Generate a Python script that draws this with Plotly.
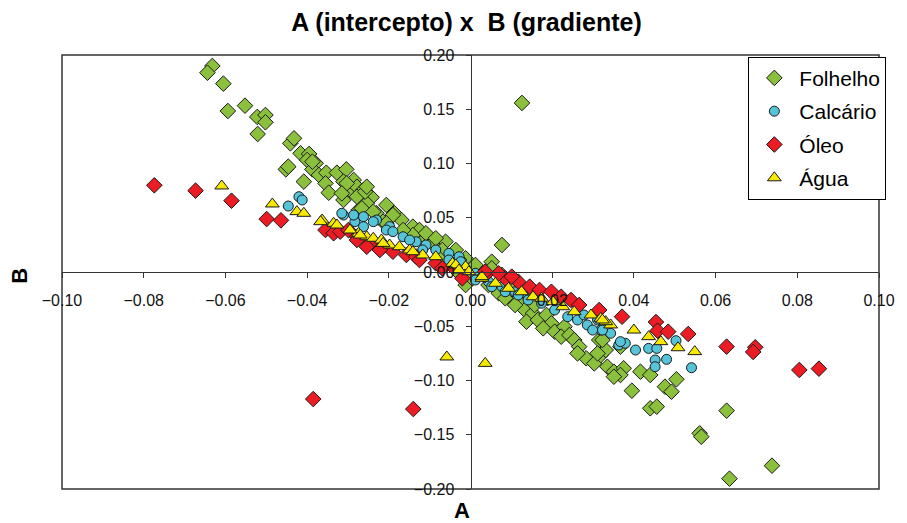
import plotly.graph_objects as go

# Folhelho (shale)
folhelho_a = [-0.0632, -0.0644, -0.0605, -0.0594, -0.0552, -0.0522, -0.0502, -0.0502, -0.0521, -0.0441,
              -0.0432, -0.0452, -0.0446, -0.0416, -0.0395, -0.0400, -0.0379, -0.0387, -0.0371, -0.0353,
              -0.0355, -0.0408, -0.0347, -0.0327, -0.0304, -0.0311, -0.0286, -0.0295, -0.0278, -0.0262,
              -0.0242, -0.0311, -0.0254, -0.0206, -0.0274, -0.0230, -0.0186, -0.0169, -0.0141, -0.0125,
              -0.0214, -0.0387, -0.0303, -0.0315, -0.0278, -0.0258, -0.0254, -0.0266, -0.0238, -0.0190,
              -0.0206, -0.0141, -0.0109, -0.0093, -0.0061, -0.0069, -0.0036, -0.0012, -0.0028, -0.0165,
              -0.0109, -0.0085, 0.0012, 0.0052, 0.0032, 0.0052, 0.0077, -0.0012, 0.0004, 0.0044,
              0.0085, 0.0109, 0.0133, 0.0149, 0.0101, -0.0036, -0.0077, 0.0077, 0.0069, 0.0085,
              0.0121, 0.0133, 0.0153, 0.0137, 0.0165, 0.0186, 0.0198, 0.0178, 0.0206, 0.0230,
              0.0222, 0.0242, 0.0254, 0.0266, 0.0283, 0.0303, 0.0319, 0.0331, 0.0315, 0.0335,
              0.0351, 0.0375, 0.0367, 0.0109, 0.0157, 0.0262, 0.0311, 0.0323, 0.0351, 0.0416,
              0.0440, 0.0395, 0.0367, 0.0440, 0.0456, 0.0476, 0.0492, 0.0504, 0.0561, 0.0565,
              0.0627, 0.0634, 0.0738, 0.0126]
folhelho_b = [0.1899, 0.1837, 0.1736, 0.1484, 0.1533, 0.1429, 0.1447, 0.1380, 0.1272, 0.1186,
              0.1232, 0.0946, 0.0971, 0.1094, 0.1088, 0.1032, 0.1002, 0.0946, 0.0894, 0.0915,
              0.0817, 0.0833, 0.0731, 0.0915, 0.0946, 0.0833, 0.0848, 0.0756, 0.0786, 0.0756,
              0.0688, 0.0664, 0.0633, 0.0618, 0.0571, 0.0541, 0.0541, 0.0479, 0.0418, 0.0387,
              0.0464, 0.1017, 0.0817, 0.0725, 0.0694, 0.0740, 0.0786, 0.0587, 0.0556, 0.0525,
              0.0449, 0.0341, 0.0311, 0.0264, 0.0279, 0.0203, 0.0203, 0.0126, 0.0111, 0.0387,
              0.0357, 0.0311, 0.0065, 0.0095, -0.0028, 0.0034, -0.0028, -0.0120, -0.0058, -0.0120,
              -0.0212, -0.0274, -0.0242, -0.0320, -0.0120, 0.0018, 0.0126, 0.0249, -0.0196, -0.0242,
              -0.0288, -0.0350, -0.0381, -0.0458, -0.0442, -0.0396, -0.0473, -0.0519, -0.0550, -0.0504,
              -0.0596, -0.0581, -0.0627, -0.0688, -0.0795, -0.0842, -0.0765, -0.0719, -0.0627, -0.0873,
              -0.0919, -0.0888, -0.0949, -0.0304, -0.0304, -0.0750, -0.0750, -0.0627, -0.0965, -0.0919,
              -0.0949, -0.1094, -0.0688, -0.1256, -0.1241, -0.1057, -0.1103, -0.0989, -0.1487, -0.1518,
              -0.1278, -0.1905, -0.1785, 0.1558]

# Calcário (limestone)
calcario_a = [-0.0446, -0.0420, -0.0412, -0.0311, -0.0283, -0.0262, -0.0230, -0.0198, -0.0315, -0.0286,
              -0.0238, -0.0262, -0.0206, -0.0190, -0.0165, -0.0133, -0.0109, -0.0085, -0.0053, -0.0028,
              -0.0149, -0.0117, -0.0053, -0.0020, -0.0024, 0.0012, 0.0012, 0.0044, 0.0052, 0.0077,
              0.0085, 0.0109, 0.0117, 0.0141, 0.0141, 0.0174, 0.0206, 0.0238, 0.0262, 0.0286,
              0.0319, 0.0343, 0.0363, 0.0379, 0.0404, 0.0311, 0.0278, 0.0299, 0.0323, 0.0367,
              0.0436, 0.0456, 0.0452, 0.0452, 0.0480, 0.0503, 0.0541]
calcario_b = [0.0608, 0.0694, 0.0664, 0.0525, 0.0464, 0.0510, 0.0479, 0.0418, 0.0541, 0.0525,
              0.0464, 0.0418, 0.0387, 0.0372, 0.0325, 0.0279, 0.0249, 0.0203, 0.0172, 0.0141,
              0.0295, 0.0203, 0.0111, 0.0049, 0.0095, -0.0012, -0.0074, -0.0089, -0.0135, -0.0135,
              -0.0182, -0.0182, -0.0212, -0.0228, -0.0258, -0.0288, -0.0350, -0.0412, -0.0442, -0.0488,
              -0.0535, -0.0565, -0.0673, -0.0657, -0.0719, -0.0442, -0.0396, -0.0535, -0.0535, -0.0642,
              -0.0704, -0.0704, -0.0811, -0.0873, -0.0805, -0.0633, -0.0882]

# Óleo (oil)
oleo_a = [-0.0774, -0.0673, -0.0585, -0.0499, -0.0464, -0.0355, -0.0335, -0.0319, -0.0299, -0.0278,
          -0.0246, -0.0214, -0.0190, -0.0157, -0.0133, -0.0278, -0.0254, -0.0222, -0.0125, -0.0085,
          -0.0044, -0.0069, -0.0020, 0.0036, 0.0085, 0.0117, 0.0145, 0.0069, 0.0101, 0.0169,
          0.0198, 0.0222, 0.0246, 0.0266, 0.0315, 0.0371, 0.0036, 0.0454, 0.0458, 0.0484,
          0.0533, 0.0627, 0.0697, 0.0692, 0.0805, 0.0853, -0.0385, -0.0140]
oleo_b = [0.0799, 0.0750, 0.0657, 0.0488, 0.0476, 0.0387, 0.0357, 0.0372, 0.0387, 0.0325,
          0.0264, 0.0233, 0.0187, 0.0157, 0.0141, 0.0295, 0.0233, 0.0203, 0.0111, 0.0080,
          0.0049, 0.0034, -0.0058, -0.0028, -0.0058, -0.0089, -0.0135, -0.0012, -0.0043, -0.0166,
          -0.0182, -0.0228, -0.0258, -0.0304, -0.0350, -0.0412, 0.0003, -0.0461, -0.0541, -0.0550,
          -0.0571, -0.0688, -0.0694, -0.0737, -0.0903, -0.0891, -0.1171, -0.1263]

# Água (water)
agua_a = [-0.0609, -0.0485, -0.0425, -0.0408, -0.0363, -0.0335, -0.0274, -0.0254, -0.0238, -0.0218,
          -0.0198, -0.0174, -0.0149, -0.0117, -0.0367, -0.0327, -0.0295, -0.0270, -0.0214, -0.0085,
          -0.0044, -0.0012, -0.0141, -0.0036, -0.0004, 0.0028, 0.0093, 0.0125, 0.0153, -0.0028,
          0.0028, 0.0061, 0.0174, 0.0202, 0.0226, 0.0254, 0.0295, 0.0319, 0.0343, 0.0331,
          0.0400, 0.0436, 0.0323, 0.0466, 0.0508, 0.0549, 0.0036, -0.0058]
agua_b = [0.0793, 0.0627, 0.0556, 0.0541, 0.0479, 0.0449, 0.0357, 0.0325, 0.0311, 0.0295,
          0.0249, 0.0233, 0.0203, 0.0157, 0.0464, 0.0433, 0.0387, 0.0341, 0.0264, 0.0141,
          0.0080, 0.0049, 0.0187, 0.0065, 0.0003, -0.0058, -0.0150, -0.0182, -0.0228, 0.0018,
          -0.0043, -0.0104, -0.0242, -0.0274, -0.0320, -0.0366, -0.0396, -0.0427, -0.0488, -0.0458,
          -0.0535, -0.0596, -0.0442, -0.0642, -0.0698, -0.0734, -0.0842, -0.0783]

x_ticks = [-0.10, -0.08, -0.06, -0.04, -0.02, 0.00, 0.02, 0.04, 0.06, 0.08, 0.10]
y_ticks = [-0.20, -0.15, -0.10, -0.05, 0.00, 0.05, 0.10, 0.15, 0.20]

series = [
    ("Folhelho", folhelho_a, folhelho_b, "diamond", "#8BC03C", 12),
    ("Calcário", calcario_a, calcario_b, "circle", "#55C3D8", 10),
    ("Óleo", oleo_a, oleo_b, "diamond", "#EC1C24", 12),
    ("Água", agua_a, agua_b, "triangle-up", "#F7EA00", 12),
]

font = "Liberation Sans, Arial, sans-serif"

fig = go.Figure()
for name, a, b, symbol, color, size in series:
    fig.add_trace(go.Scatter(
        x=a, y=b, mode="markers", name=name, legendgroup=name,
        marker=dict(symbol=symbol, size=size, color=color,
                    line=dict(color="#1a1a1a", width=1))
    ))

# axes cross at zero, like the original spreadsheet chart
axis_style = dict(showgrid=False, zeroline=False, showline=True, linecolor="#333333",
                  linewidth=1, ticks="outside", ticklen=5, tickcolor="#333333",
                  tickfont=dict(family=font, size=16, color="#111111"),
                  anchor="free", position=0.5, tickformat=".2f")

# page body has an 8px margin, so the figure is 8px smaller than the window
fig.update_layout(
    width=899, height=515,
    margin=dict(l=54, r=19, t=47, b=34),
    paper_bgcolor="white", plot_bgcolor="white",
    font=dict(family=font, color="black"),
    title=dict(text="<b>A (intercepto) x\u00a0 B (gradiente)</b>", x=0.51, xanchor="center",
               y=0.972, yanchor="middle", font=dict(size=25, family=font)),
    xaxis=dict(range=[-0.1, 0.1], tickvals=x_ticks, ticklabelstandoff=9, **axis_style),
    yaxis=dict(range=[-0.2, 0.2], tickvals=y_ticks, ticklabelstandoff=8, **axis_style),
    legend=dict(x=1.009, xanchor="right", y=0.996, yanchor="top",
                bordercolor="black", borderwidth=1, bgcolor="white",
                font=dict(family=font, size=21), tracegroupgap=3,
                traceorder="grouped", itemwidth=40),
    shapes=[dict(type="rect", xref="paper", yref="paper", x0=0, x1=1, y0=0, y1=1,
                 line=dict(color="#333333", width=1.5), layer="below")],
    annotations=[
        dict(text="<b>A</b>", xref="paper", yref="paper", x=0.49, y=-0.05,
             showarrow=False, yanchor="middle", font=dict(size=22, family=font)),
        dict(text="<b>B</b>", xref="paper", yref="paper", x=-0.052, y=0.49,
             showarrow=False, textangle=-90, xanchor="center", font=dict(size=22, family=font)),
    ],
)

fig.write_html("out.html")
